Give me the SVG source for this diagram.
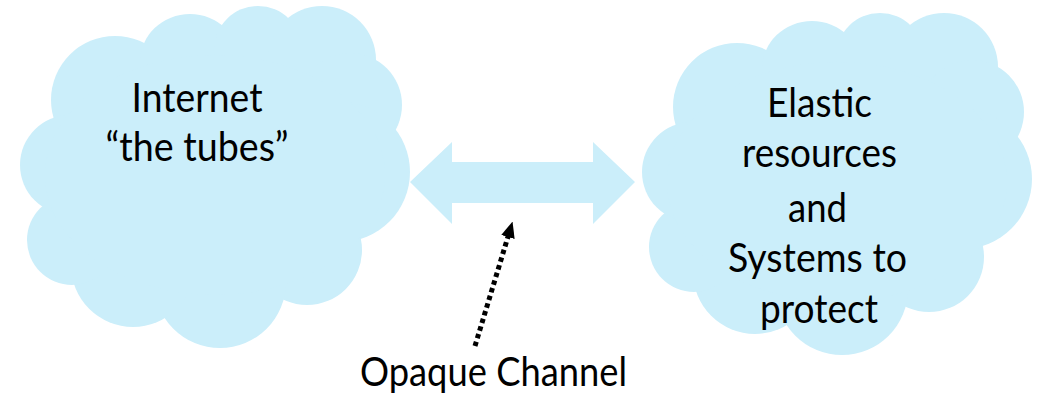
<svg xmlns="http://www.w3.org/2000/svg" xmlns:xlink="http://www.w3.org/1999/xlink" width="1038" height="399" viewBox="0 0 1038 399">
<style>
.cl{fill:#cbeefa}
.t{font-family:Lato,"Open Sans","DejaVu Sans",sans-serif;font-size:41px;fill:#000;text-anchor:middle}
.dots{fill:none;stroke:#000;stroke-width:5;stroke-dasharray:4.5 3.5}
</style>
<defs>
<g id="cloud" class="cl">
<circle cx="115" cy="100" r="64"/>
<ellipse cx="190" cy="62" rx="50" ry="48"/>
<circle cx="258" cy="50" r="44"/>
<circle cx="322" cy="60" r="54"/>
<circle cx="350" cy="105" r="52"/>
<circle cx="340" cy="172" r="70"/>
<circle cx="307" cy="250" r="55"/>
<circle cx="220" cy="282" r="66"/>
<circle cx="133" cy="265" r="62"/>
<circle cx="72" cy="240" r="45"/>
<circle cx="70" cy="165" r="50"/>
<ellipse cx="215" cy="175" rx="170" ry="120"/>
</g>
<marker id="ah" viewBox="0 0 16 14" refX="2" refY="7" markerWidth="16" markerHeight="14" markerUnits="userSpaceOnUse" orient="auto">
<path d="M0,0 L16,7 L0,14 Z" fill="#000"/>
</marker>
</defs>
<g id="internet">
<use xlink:href="#cloud"/>
<text class="t" x="197" y="112" textLength="131" lengthAdjust="spacingAndGlyphs">Internet</text>
<text class="t" x="197" y="161" textLength="183" lengthAdjust="spacingAndGlyphs">“the tubes”</text>
</g>
<g id="elastic">
<use xlink:href="#cloud" transform="translate(622,7)"/>
<text class="t" x="819.5" y="117" textLength="105" lengthAdjust="spacingAndGlyphs">Elastic</text>
<text class="t" x="819.5" y="167" textLength="155" lengthAdjust="spacingAndGlyphs">resources</text>
<text class="t" x="817.5" y="222" textLength="59" lengthAdjust="spacingAndGlyphs">and</text>
<text class="t" x="817.5" y="272" textLength="179" lengthAdjust="spacingAndGlyphs">Systems to</text>
<text class="t" x="819" y="323" textLength="118" lengthAdjust="spacingAndGlyphs">protect</text>
</g>
<g id="label">
<text class="t" x="493.5" y="386" textLength="267" lengthAdjust="spacingAndGlyphs">Opaque Channel</text>
</g>
<g id="connectors">
<polygon class="cl" points="410,182 452,142 452,162 593,162 593,142 635,182 593,224 593,203 452,203 452,224"/>
<path class="dots" d="M475,346 L508.5,235" marker-end="url(#ah)"/>
</g>
</svg>
